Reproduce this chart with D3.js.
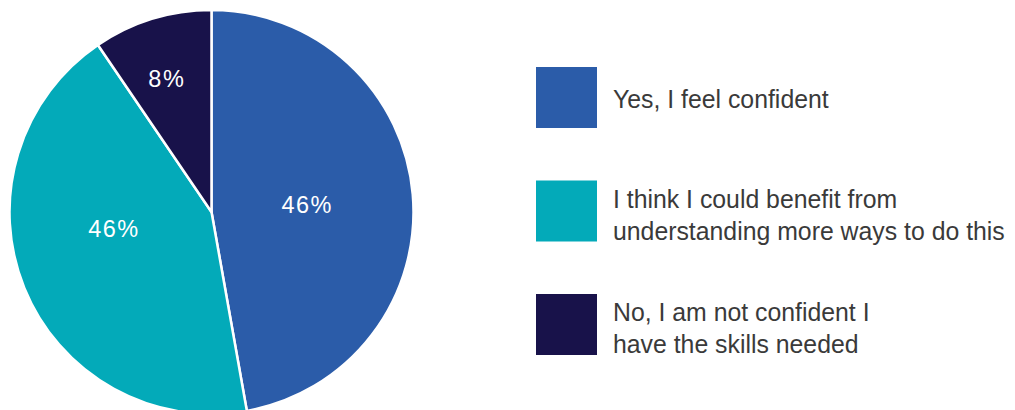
<!DOCTYPE html>
<html>
<head>
<meta charset="utf-8">
<script src="https://cdn.jsdelivr.net/npm/d3@7"></script>
<style>
  html, body { margin: 0; padding: 0; background: #fff; }
  svg { display: block; }
  .slice-label { fill: #fff; font-family: "Liberation Sans", Arial, sans-serif; font-size: 23.5px; letter-spacing: 1.5px; }
  .legend-text { fill: #3a3a3a; font-family: "Liberation Sans", Arial, sans-serif; font-size: 26px; }
</style>
</head>
<body>
<svg class="chart" width="1015" height="410"></svg>
<script>
// slice shares as drawn (angles)
const categories = ['Yes, I feel confident', 'I think I could benefit from understanding more ways to do this', 'No, I am not confident I have the skills needed'];
const shares = [47.2, 43.3, 9.5];
const sliceLabels = ['46%', '46%', '8%'];
const legendLines = [
    ['Yes, I feel confident'],
    ['I think I could benefit from', 'understanding more ways to do this'],
    ['No, I am not confident I', 'have the skills needed']
];
const colours = ['#2b5ca9', '#03aab9', '#18124a'];

let width = 1015, height = 410;
let svg = d3.select('.chart');

let cx = 211.5, cy = 212, radius = 202;

// where the % label sits inside each slice (fraction of slice angle, distance from centre)
let labelPlace = [{ t: 0.505, r: 96 }, { t: 0.58, r: 99 }, { t: 0.46, r: 141 }];

let pie = d3.pie().sort(null).value(d => d);
let arcs = pie(shares);

let arc = d3.arc().innerRadius(0).outerRadius(radius);

let g = svg.append('g').attr('transform', `translate(${cx},${cy})`);

g.selectAll('path')
    .data(arcs)
    .join('path')
    .attr('d', arc)
    .style('fill', (d, i) => colours[i])
    .style('stroke', '#fff')
    .style('stroke-width', 2.5)
    .style('stroke-linejoin', 'round');

g.selectAll('.slice-label')
    .data(arcs)
    .join('text')
    .attr('class', 'slice-label')
    .attr('text-anchor', 'middle')
    .attr('dy', '0.36em')
    .attr('transform', (d, i) => {
        let p = labelPlace[i];
        let a = d.startAngle + (d.endAngle - d.startAngle) * p.t;
        let c = d3.arc().innerRadius(p.r).outerRadius(p.r).startAngle(a).endAngle(a).centroid();
        return `translate(${c[0]},${c[1]})`;
    })
    .text((d, i) => sliceLabels[i]);

// legend
let legendY = d3.scalePoint()
    .domain(categories)
    .range([67, 294]);

let items = svg.append('g').attr('class', 'legend')
    .selectAll('g')
    .data(categories)
    .join('g')
    .attr('transform', d => `translate(536,${legendY(d)})`);

items.append('rect')
    .attr('width', 61)
    .attr('height', 61)
    .style('fill', (d, i) => colours[i]);

items.each(function(d, i) {
    let lines = legendLines[i];
    // the original face is a bit narrower than Liberation Sans, squeeze it horizontally
    let t = d3.select(this).append('text')
        .attr('class', 'legend-text')
        .attr('transform', `translate(77,${41 - (lines.length - 1) * 14}) scale(0.955,1)`);
    t.selectAll('tspan')
        .data(lines)
        .join('tspan')
        .attr('x', 0)
        .attr('dy', (l, j) => j === 0 ? 0 : 32.5)
        .text(l => l);
});
</script>
</body>
</html>
